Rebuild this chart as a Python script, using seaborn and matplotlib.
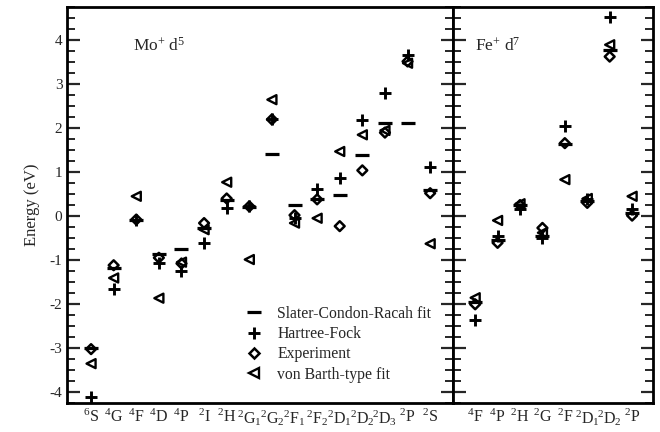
import matplotlib
matplotlib.use("Agg")
import matplotlib.pyplot as plt
import seaborn as sns
import pandas as pd
from matplotlib.lines import Line2D
from matplotlib.ticker import MultipleLocator, FormatStrFormatter

sns.set_theme(style="white")
plt.rcParams['font.family'] = ['Liberation Serif', 'DejaVu Serif']
plt.rcParams['mathtext.fontset'] = 'custom'
plt.rcParams['mathtext.rm'] = 'Liberation Serif'
plt.rcParams['mathtext.it'] = 'Liberation Serif:italic'

# ---- Mo+ d5 data ----
labels_mo = [r'$^{6}$S', r'$^{4}$G', r'$^{4}$F', r'$^{4}$D', r'$^{4}$P', r'$^{2}$I', r'$^{2}$H',
             r'$^{2}$G$_{1}$', r'$^{2}$G$_{2}$', r'$^{2}$F$_{1}$', r'$^{2}$F$_{2}$', r'$^{2}$D$_{1}$',
             r'$^{2}$D$_{2}$', r'$^{2}$D$_{3}$', r'$^{2}$P', r'$^{2}$S']
scr_mo = [-3.00, -1.18, -0.10, -0.86, -0.74, -0.27, 0.36, 0.20, 1.41, 0.25, 0.38, 0.47, 1.40, 2.12, 2.12, 0.60]
hf_mo  = [-4.11, -1.67, -0.10, -1.06, -1.26, -0.61, 0.19, 0.22, 2.20, -0.05, 0.62, 0.87, 2.18, 2.80, 3.67, 1.12]
exp_mo = [-3.03, -1.12, -0.08, -0.95, -1.08, -0.16, 0.40, 0.22, 2.20, 0.02, 0.38, -0.23, 1.04, 1.90, 3.52, 0.52]
vb_mo  = [-3.36, -1.41, 0.45, -1.87, -1.05, -0.31, 0.77, -0.99, 2.65, -0.16, -0.05, 1.47, 1.85, 1.95, 3.48, -0.63]

# ---- Fe+ d7 data ----
labels_fe = [r'$^{4}$F', r'$^{4}$P', r'$^{2}$H', r'$^{2}$G', r'$^{2}$F', r'$^{2}$D$_{1}$', r'$^{2}$D$_{2}$', r'$^{2}$P']
scr_fe = [-1.95, -0.55, 0.25, -0.45, 1.65, 0.35, 3.77, 0.06]
hf_fe  = [-2.37, -0.46, 0.17, -0.50, 2.04, 0.38, 4.53, 0.15]
exp_fe = [-2.01, -0.61, 0.25, -0.27, 1.66, 0.30, 3.63, 0.01]
vb_fe  = [-1.86, -0.10, 0.28, -0.38, 0.83, 0.40, 3.90, 0.45]

fig = plt.figure(figsize=(6.6, 4.32), dpi=100)
ax1 = fig.add_axes([0.102, 0.0678, 0.584, 0.915])
ax2 = fig.add_axes([0.686, 0.0678, 0.304, 0.915], sharey=ax1)

FS = 11
XFS = 11.5

MS_DASH, MW_DASH = 10.5, 2.3
MS_PLUS, MW_PLUS = 8.0, 2.1
MS_DIA, MW_DIA = 5.0, 1.8
MS_TRI, MW_TRI = 6.5, 1.7


def draw(ax, labels, scr, hf, exp, vb):
    df = pd.DataFrame({'x': range(len(labels)), 'scr': scr, 'hf': hf, 'exp': exp, 'vb': vb})
    sns.scatterplot(data=df, x='x', y='scr', marker='_', s=MS_DASH**2, color='black',
                    linewidth=MW_DASH, ax=ax, zorder=3)
    sns.scatterplot(data=df, x='x', y='hf', marker='+', s=MS_PLUS**2, color='black',
                    linewidth=MW_PLUS, ax=ax, zorder=3)
    sns.scatterplot(data=df, x='x', y='exp', marker='D', s=MS_DIA**2, facecolors='none', edgecolor='black',
                    linewidth=MW_DIA, ax=ax, zorder=3)
    sns.scatterplot(data=df, x='x', y='vb', marker='<', s=MS_TRI**2, facecolors='none', edgecolor='black',
                    linewidth=MW_TRI, ax=ax, zorder=3)
    ax.set_xticks(range(len(labels)))
    ax.set_xticklabels(labels, fontsize=XFS)
    ax.set_xlabel('')
    ax.set_ylabel('')
    ax.set_ylim(-4.25, 4.75)
    ax.yaxis.set_major_locator(MultipleLocator(1))
    ax.yaxis.set_minor_locator(MultipleLocator(0.25))
    ax.tick_params(axis='x', length=0, pad=4)
    ax.tick_params(axis='y', which='major', direction='in', length=9, width=1.6, left=True, right=True, labelsize=FS)
    ax.tick_params(axis='y', which='minor', direction='in', length=5.5, width=1.4, left=True, right=True)
    for s in ax.spines.values():
        s.set_linewidth(2.0)
        s.set_color('black')


draw(ax1, labels_mo, scr_mo, hf_mo, exp_mo, vb_mo)
draw(ax2, labels_fe, scr_fe, hf_fe, exp_fe, vb_fe)
ax1.set_xlim(-1.05, 16.0)
ax2.set_xlim(-1.0, 7.95)
ax2.tick_params(axis='y', labelleft=False)

ax1.set_ylabel('Energy (eV)', fontsize=12, labelpad=7)
ax1.yaxis.set_major_formatter(FormatStrFormatter('%d'))
ax1.tick_params(axis='y', labelleft=True)

ax1.text(0.170, 0.902, r'Mo$^{+}$ d$^{5}$', transform=ax1.transAxes, fontsize=12.5, va='center', ha='left')
ax2.text(0.11, 0.902, r'Fe$^{+}$ d$^{7}$', transform=ax2.transAxes, fontsize=12.5, va='center', ha='left')

handles = [
    Line2D([], [], ls='none', marker='_', ms=MS_DASH, mew=MW_DASH, color='black'),
    Line2D([], [], ls='none', marker='+', ms=MS_PLUS, mew=MW_PLUS, color='black'),
    Line2D([], [], ls='none', marker='D', ms=MS_DIA, mew=MW_DIA, mfc='none', mec='black'),
    Line2D([], [], ls='none', marker='<', ms=MS_TRI, mew=MW_TRI, mfc='none', mec='black'),
]
names = ['Slater-Condon-Racah fit', 'Hartree-Fock', 'Experiment', 'von Barth-type fit']
ax1.legend(handles, names, loc='center left', bbox_to_anchor=(0.465, 0.148), frameon=False,
           fontsize=11.3, handlelength=1.0, handletextpad=0.95, labelspacing=0.28, borderpad=0,
           borderaxespad=0, numpoints=1)

fig.savefig('out.png', dpi=100)
